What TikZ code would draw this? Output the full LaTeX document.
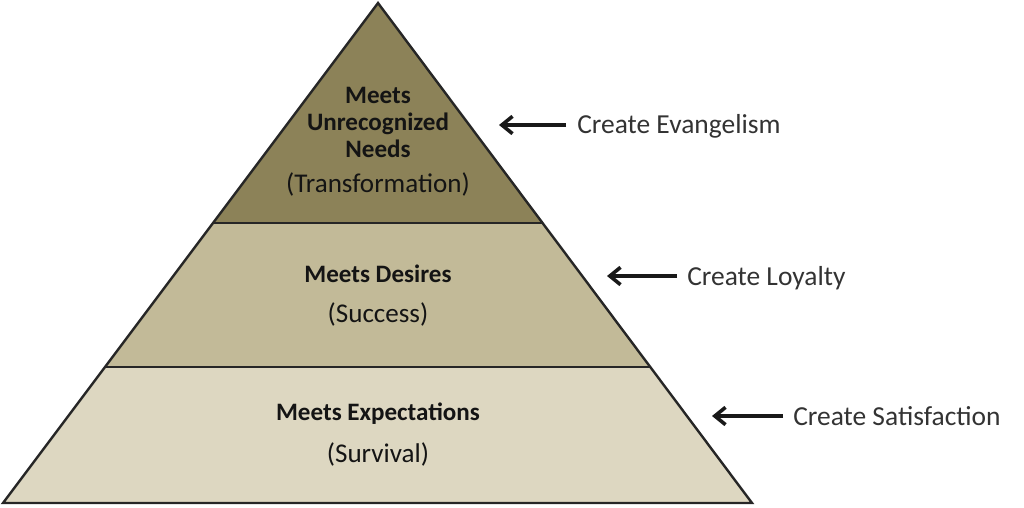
\documentclass[tikz,border=0pt]{standalone}
\usepackage{fontspec}
\setmainfont{Carlito}
\usetikzlibrary{arrows.meta}
\definecolor{lvltop}{HTML}{8C8258}
\definecolor{lvlmid}{HTML}{C2BA98}
\definecolor{lvlbot}{HTML}{DDD7C1}
\definecolor{lbl}{HTML}{333333}
\definecolor{txt}{HTML}{141414}
\tikzset{
  tier/.style={draw=black!85, line width=1.8pt, line join=miter},
  boldtxt/.style={anchor=base, inner sep=0pt, text=txt, font=\fontsize{18.8pt}{22pt}\selectfont\bfseries},
  regtxt/.style={anchor=base, inner sep=0pt, text=txt, font=\fontsize{20.3pt}{24pt}\selectfont},
  sidetxt/.style={anchor=base west, inner sep=0pt, text=lbl, font=\fontsize{20.6pt}{24pt}\selectfont},
  arr/.style={line width=2.7pt, black!90, -{Straight Barb[length=8pt, width=13pt, line width=2.7pt]}}
}
\begin{document}
\begin{tikzpicture}[x=0.75pt, y=-0.75pt]
\useasboundingbox (0,0) rectangle (1024,507);
% tiers
\fill[lvlbot] (3,503) -- (105,367) -- (651,367) -- (752,503) -- cycle;
\fill[lvlmid] (105,367) -- (213,223) -- (543,223) -- (651,367) -- cycle;
\fill[lvltop] (213,223) -- (378,3) -- (543,223) -- cycle;
\draw[tier] (3,503) -- (378,3) -- (752,503) -- cycle;
\draw[tier] (213,223) -- (543,223);
\draw[tier] (105,367) -- (651,367);
% pyramid texts
\node[boldtxt] (t1) at (378,103) {Meets};
\node[boldtxt] (t2) at (378,130) {Unrecognized};
\node[boldtxt] (t3) at (378,157) {Needs};
\node[regtxt] (t4) at (378,192) {(Transformation)};
\node[boldtxt] (m1) at (378,282) {Meets Desires};
\node[regtxt] (m2) at (378,322) {(Success)};
\node[boldtxt] (b1) at (378,420) {Meets Expectations};
\node[regtxt] (b2) at (378,462) {(Survival)};
% side labels
\node[sidetxt] (l1) at (577,133) {Create Evangelism};
\node[sidetxt] (l2) at (687,285) {Create Loyalty};
\node[sidetxt] (l3) at (793,425) {Create Satisfaction};
\coordinate (s1) at (566,125); \coordinate (e1) at (499,125);
\coordinate (s2) at (677,276); \coordinate (e2) at (607,276);
\coordinate (s3) at (783,416); \coordinate (e3) at (712,416);
\draw[arr] (s1) -- (e1);
\draw[arr] (s2) -- (e2);
\draw[arr] (s3) -- (e3);
\end{tikzpicture}
\end{document}
